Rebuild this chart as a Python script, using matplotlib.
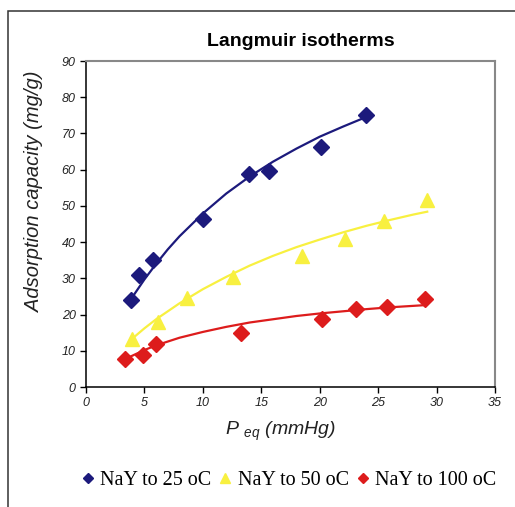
import matplotlib
matplotlib.use("Agg")
import matplotlib.pyplot as plt
from matplotlib.patches import Rectangle

# measured points
p_25 = [3.85, 4.55, 5.7, 10.05, 13.95, 15.7, 20.1, 24.0]
q_25 = [24.1, 30.9, 35.1, 46.4, 58.9, 59.5, 66.3, 75.0]
p_50 = [3.95, 6.2, 8.65, 12.6, 18.5, 22.2, 25.5, 29.15]
q_50 = [13.2, 18.0, 24.5, 30.3, 36.2, 40.8, 45.8, 51.5]
p_100 = [3.35, 4.9, 6.0, 13.3, 20.2, 23.1, 25.8, 29.0]
q_100 = [7.7, 8.8, 11.9, 14.8, 18.8, 21.4, 22.2, 24.2]

# fitted curves
fit_p_25 = [3.9, 5, 6, 7, 8, 10, 12, 14, 16, 18, 20, 22, 24.1]
fit_q_25 = [24.5, 29.7, 34.0, 38.0, 41.6, 47.9, 53.4, 58.1, 62.2, 65.8, 69.1, 71.9, 74.7]
fit_p_50 = [4.05, 5, 6, 8, 10, 12, 14, 16, 18, 20, 22, 24, 26, 28, 29.2]
fit_q_50 = [13.6, 16.2, 18.7, 23.1, 27.0, 30.4, 33.5, 36.2, 38.6, 40.7, 42.7, 44.5, 46.1, 47.6, 48.4]
fit_p_100 = [3.48, 4, 5, 6, 8, 10, 12, 14, 16, 18, 20, 22, 24, 26, 29]
fit_q_100 = [7.9, 8.7, 10.2, 11.5, 13.6, 15.2, 16.6, 17.8, 18.7, 19.6, 20.3, 20.9, 21.5, 22.0, 22.6]

labels = ['NaY to 25 oC', 'NaY to 50 oC', 'NaY to 100 oC']
c_blue, c_yellow, c_red = '#1c1a7c', '#f8f040', '#dd1c1c'

plt.rcParams['mathtext.fontset'] = 'custom'
plt.rcParams['mathtext.it'] = 'Liberation Sans:italic'
plt.rcParams['mathtext.rm'] = 'Liberation Sans'

fig = plt.figure(figsize=(5.15, 5.07), dpi=100)
fig.patch.set_facecolor('white')
fig.patches.append(Rectangle((8 / 515, -0.1), 1.2, 1 - 11 / 507 + 0.1,
                             transform=fig.transFigure, fill=False,
                             edgecolor='#333333', linewidth=1.1))

ax = fig.add_axes([86 / 515, 1 - 387 / 507, 409 / 515, 326 / 507])

ax.plot(fit_p_25, fit_q_25, color=c_blue, lw=1.6)
ax.plot(fit_p_50, fit_q_50, color=c_yellow, lw=1.6)
ax.plot(fit_p_100, fit_q_100, color=c_red, lw=1.6)
ax.plot(p_25, q_25, 'D', color=c_blue, ms=8, ls='none', label=labels[0])
ax.plot(p_50, q_50, '^', color=c_yellow, ms=10, ls='none', label=labels[1])
ax.plot(p_100, q_100, 'D', color=c_red, ms=8, ls='none', label=labels[2])

ax.set_xlim(0, 35)
ax.set_ylim(0, 90)
ax.set_xticks(range(0, 36, 5))
ax.set_yticks(range(0, 91, 10))
ax.tick_params(direction='out', length=4, width=1, labelsize=9,
               labelcolor='#222222')
for lab in ax.get_xticklabels() + ax.get_yticklabels():
    lab.set_fontstyle('italic')
    lab.set_family('Liberation Sans')
for s in ['left', 'bottom']:
    ax.spines[s].set_color('black')
    ax.spines[s].set_linewidth(1.1)
for s in ['top', 'right']:
    ax.spines[s].set_color('#888888')
    ax.spines[s].set_linewidth(1.5)

ax.set_xlabel(r'$P$ $_{eq}$ (mmHg)', fontsize=14, style='italic',
              family='Liberation Sans', color='#222222')
ax.set_ylabel('Adsorption capacity (mg/g)', fontsize=14.5, style='italic',
              family='Liberation Sans', color='#222222')
# label placement in axes coords
ax.xaxis.set_label_coords((280 - 86) / 409, -(431 - 387) / 326)
ax.yaxis.set_label_coords(-(86 - 35) / 409, (387 - 192) / 326)
ax.xaxis.label.set_va('center')
ax.yaxis.label.set_va('center')

fig.text(301 / 515, 1 - 42 / 507, 'Langmuir isotherms', ha='center',
         va='center', fontsize=14, fontweight='bold',
         family='Liberation Sans')

fig.legend(loc='center', bbox_to_anchor=(289 / 515, 1 - 480 / 507), ncol=3,
           frameon=False, prop={'family': 'Liberation Serif', 'size': 14.5},
           handlelength=0.6, handletextpad=0.3, columnspacing=0.4,
           markerscale=0.7)

fig.savefig('out.png', dpi=100)
